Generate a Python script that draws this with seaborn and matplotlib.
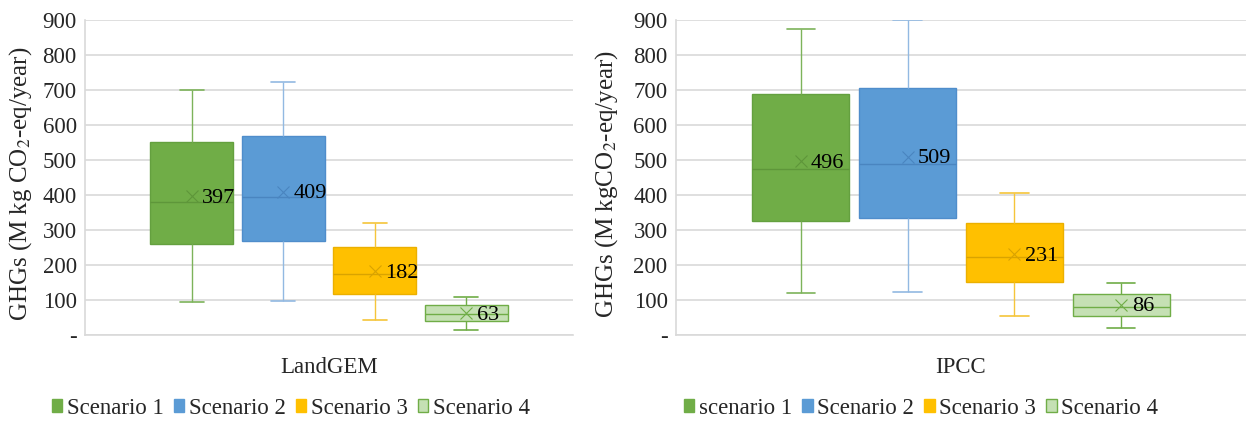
import pandas as pd
import seaborn as sns
import matplotlib.pyplot as plt
from matplotlib.patches import Patch

sns.set_style('white')
plt.rcParams['font.family'] = ['Liberation Serif', 'DejaVu Serif']
plt.rcParams['mathtext.fontset'] = 'stix'

scenarios = ['Scenario 1', 'Scenario 2', 'Scenario 3', 'Scenario 4']
legend_landgem = ['Scenario 1', 'Scenario 2', 'Scenario 3', 'Scenario 4']
legend_ipcc = ['scenario 1', 'Scenario 2', 'Scenario 3', 'Scenario 4']

# box statistics (min, Q1, median, Q3, max) and means
landgem_low = [95, 97, 44, 13]
landgem_q1 = [259, 268, 118, 39]
landgem_med = [380, 393, 173, 59]
landgem_q3 = [551, 568, 252, 85]
landgem_high = [701, 723, 320, 110]
landgem_mean = [397, 409, 182, 63]

ipcc_low = [119, 122, 54, 19]
ipcc_q1 = [325, 335, 151, 54]
ipcc_med = [474, 488, 222, 81]
ipcc_q3 = [688, 707, 320, 117]
ipcc_high = [875, 900, 407, 149]
ipcc_mean = [496, 509, 231, 86]

y_ticks = [0, 100, 200, 300, 400, 500, 600, 700, 800, 900]
y_ticklabels = ['-', '100', '200', '300', '400', '500', '600', '700', '800', '900']

fills = ['#70AD47', '#5B9BD5', '#FFC000', '#C5E0B4']
edges = ['#64A03F', '#4F8DCB', '#EBB000', '#70AD47']
whisker_colors = ['#7DB35A', '#92B9E2', '#F5C53A', '#70AD47']
median_colors = ['#5E963A', '#4A85C0', '#D9A300', '#70AD47']

FS = 16.5


def build_frame(model, low, q1, med, q3, high):
    rows = []
    for i, name in enumerate(scenarios):
        for v in (low[i], q1[i], med[i], q3[i], high[i]):
            rows.append({'model': model, 'scenario': name, 'value': v})
    return pd.DataFrame(rows)


def draw_panel(ax, df, means, ylabel, legend_labels, label_x, legend_x):
    sns.boxplot(data=df, x='model', y='value', hue='scenario', hue_order=scenarios,
                palette=fills, saturation=1, width=0.75, gap=0.09, whis=(0, 100),
                linewidth=1, legend=False, ax=ax)
    ax.set_xlim(-0.5, 0.5)

    for i, cont in enumerate(ax.containers):
        box = cont.boxes[0]
        box.set_edgecolor(edges[i])
        box.set_linewidth(1)
        ext = box.get_path().get_extents()
        cx = (ext.x0 + ext.x1) / 2
        half = (ext.x1 - ext.x0) * 0.145
        for w in cont.whiskers:
            w.set_color(whisker_colors[i])
            w.set_linewidth(1)
        for c in cont.caps:
            c.set_color(whisker_colors[i])
            c.set_linewidth(1.2)
            c.set_xdata([cx - half, cx + half])
        for m in cont.medians:
            m.set_color(median_colors[i])
            m.set_linewidth(1)
        ax.plot(cx, means[i], marker='x', ms=8, mew=0.8, color=median_colors[i], zorder=5)
        ax.annotate(str(means[i]), (cx, means[i]), xytext=(7.5, -1.5), textcoords='offset points',
                    ha='left', va='center', fontsize=16, color='black', zorder=6)

    ax.set_ylim(0, 900)
    ax.set_yticks(y_ticks)
    ax.set_yticklabels(y_ticklabels, fontsize=FS)
    ax.tick_params(axis='y', length=0, pad=6)
    ax.tick_params(axis='x', length=0, pad=16, labelsize=FS)
    ax.set_xlabel('')
    ax.set_ylabel(ylabel, fontsize=18)
    ax.yaxis.set_label_coords(label_x, 0.48)
    ax.yaxis.grid(True, color='#D9D9D9', linewidth=1.2)
    ax.set_axisbelow(True)
    for side in ['top', 'right']:
        ax.spines[side].set_visible(False)
    ax.spines['left'].set_color('#D9D9D9')
    ax.spines['bottom'].set_color('#D9D9D9')
    ax.spines['left'].set_linewidth(1.2)
    ax.spines['bottom'].set_linewidth(1.2)

    handles = [Patch(facecolor=fills[i], edgecolor=edges[i] if i == 3 else fills[i], linewidth=1)
               for i in range(4)]
    ax.legend(handles, legend_labels, loc='center', bbox_to_anchor=(legend_x, -0.232),
              ncol=4, frameon=False, fontsize=FS, handlelength=0.45, handleheight=0.45,
              handletextpad=0.2, columnspacing=0.45, borderaxespad=0)


df_landgem = build_frame('LandGEM', landgem_low, landgem_q1, landgem_med, landgem_q3, landgem_high)
df_ipcc = build_frame('IPCC', ipcc_low, ipcc_q1, ipcc_med, ipcc_q3, ipcc_high)

fig = plt.figure(figsize=(12.46, 4.21), dpi=100)
ax1 = fig.add_axes([0.0682, 0.2043, 0.3917, 0.748])
ax2 = fig.add_axes([0.5425, 0.2043, 0.4575, 0.748])

draw_panel(ax1, df_landgem, landgem_mean, 'GHGs (M kg CO$_2$-eq/year)', legend_landgem, -0.105, 0.422)
draw_panel(ax2, df_ipcc, ipcc_mean, 'GHGs (M kgCO$_2$-eq/year)', legend_ipcc, -0.098, 0.43)

fig.savefig('out.png', dpi=100)
